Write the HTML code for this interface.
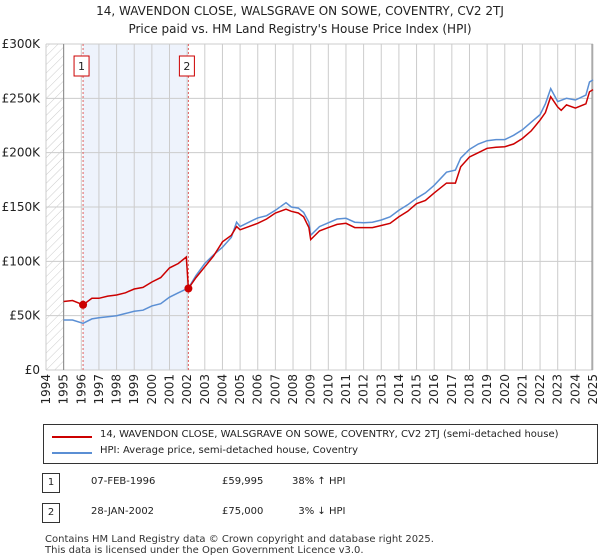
<!DOCTYPE html>
<html><head><meta charset="utf-8"><style>
body{margin:0;background:#fff;font-family:"DejaVu Sans","Liberation Sans",sans-serif;}
#wrap{position:relative;width:600px;height:560px;}
.t{position:absolute;font-size:11px;color:#222;white-space:nowrap;}
</style></head><body><div id="wrap">
<div class="t" style="left:0;width:600px;text-align:center;top:2px;font-size:12px;line-height:18px">14, WAVENDON CLOSE, WALSGRAVE ON SOWE, COVENTRY, CV2 2TJ<br>Price paid vs. HM Land Registry's House Price Index (HPI)</div>
<svg id="svg" width="600" height="420" style="position:absolute;left:0;top:0;font-family:'DejaVu Sans','Liberation Sans',sans-serif">
<defs><pattern id="hatch" width="6" height="6" patternUnits="userSpaceOnUse" patternTransform="rotate(45)"><line x1="0" y1="0" x2="0" y2="6" stroke="#ccc" stroke-width="1"/></pattern></defs>
</svg>
<div style="position:absolute;left:43px;top:424px;width:553px;height:38px;border:1px solid #333;"></div>
<div style="position:absolute;left:52px;top:436px;width:40px;height:2px;background:#cc0000"></div>
<div class="t" style="left:100px;top:429px;font-size:10px">14, WAVENDON CLOSE, WALSGRAVE ON SOWE, COVENTRY, CV2 2TJ (semi-detached house)</div>
<div style="position:absolute;left:52px;top:452px;width:40px;height:2px;background:#5b8fd4"></div>
<div class="t" style="left:100px;top:445px;font-size:10px">HPI: Average price, semi-detached house, Coventry</div>
<div class="t" style="left:42px;top:473px;width:16px;height:18px;border:1px solid #333;text-align:center;line-height:18px;font-size:10px">1</div>
<div class="t" style="left:91px;top:476px;font-size:10px">07-FEB-1996</div>
<div class="t" style="left:222px;top:476px;font-size:10px">£59,995</div>
<div class="t" style="left:292px;top:476px;font-size:10px">38% ↑ HPI</div>
<div class="t" style="left:42px;top:503px;width:16px;height:18px;border:1px solid #333;text-align:center;line-height:18px;font-size:10px">2</div>
<div class="t" style="left:91px;top:506px;font-size:10px">28-JAN-2002</div>
<div class="t" style="left:222px;top:506px;font-size:10px">£75,000</div>
<div class="t" style="left:292px;top:506px;font-size:10px">&nbsp;&nbsp;3% ↓ HPI</div>
<div class="t" style="left:45px;top:534px;font-size:10px;line-height:11px;color:#333">Contains HM Land Registry data © Crown copyright and database right 2025.<br>This data is licensed under the Open Government Licence v3.0.</div>
</div>
<script>
const hpiYears=[1995,1995.5,1996.1,1996.6,1997,1997.5,1998,1998.5,1999,1999.5,2000,2000.5,2001,2001.5,2002.07,2002.5,2003,2003.5,2004,2004.5,2004.8,2005,2005.5,2006,2006.5,2007,2007.6,2007.9,2008.3,2008.6,2008.9,2009,2009.5,2010,2010.5,2011,2011.5,2012,2012.5,2013,2013.5,2014,2014.5,2015,2015.5,2016,2016.7,2017.2,2017.5,2018,2018.5,2019,2019.5,2020,2020.5,2021,2021.5,2022,2022.3,2022.6,2023,2023.5,2024,2024.6,2024.8,2025];
const hpiVals=[46,46,43,47,48,49,50,52,54,55,59,61,67,71,75.5,87,98,106,113,122,136,132,136,140,142,147,154,150,149,145,136,124,132,135.5,139,139.6,136,135.5,136,138,141,147,152,158,163,170,182,184,195,203,208,211,212,212,216,221,228,235,245,259,247,250,248.5,253,265,267];
const redYears=[1995,1995.5,1996.1,1996.6,1997,1997.5,1998,1998.5,1999,1999.5,2000,2000.5,2001,2001.5,2001.95,2002.07,2002.5,2003,2003.5,2004,2004.5,2004.8,2005,2005.5,2006,2006.5,2007,2007.6,2007.9,2008.3,2008.6,2008.9,2009,2009.5,2010,2010.5,2011,2011.5,2012,2012.5,2013,2013.5,2014,2014.5,2015,2015.5,2016,2016.7,2017.2,2017.5,2018,2018.5,2019,2019.5,2020,2020.5,2021,2021.5,2022,2022.3,2022.6,2023,2023.2,2023.5,2024,2024.6,2024.8,2025];
const redVals=[63,64,60,66,66,68,69,71,74.5,76,81,85,94,98,104,75,85,95,105,118,124,132,129,132,135,139,144.5,148,146,144.5,141,131,120,128,131,134,135,131,131,131,133,135,141,146,153,156,163,172,172,187,196,200,204,205,205.5,208,213,220,230,237,251.5,242,239,244,241,245,256,258];
const sales=[[1996.1,59.995],[2002.07,75]];
const yTicks=[0,50,100,150,200,250,300];
const yLabels=["£0","£50K","£100K","£150K","£200K","£250K","£300K"];
const NS="http://www.w3.org/2000/svg",svg=document.getElementById('svg');
const X=y=>46+(y-1994)*(547/31), Y=v=>370-v*(326/300);
function el(t,a,name){const e=document.createElementNS(NS,t);for(const k in a)e.setAttribute(k,a[k]);


svg.appendChild(e);return e;}
el('rect',{x:X(1994),y:44,width:X(1995)-X(1994),height:326,fill:'url(#hatch)'},'pre-data-hatch');
el('rect',{x:X(sales[0][0]),y:44,width:X(sales[1][0])-X(sales[0][0]),height:326,fill:'#eef3fc'},'ownership-shade');
for(let yr=1994;yr<=2025;yr++){el('line',{x1:X(yr),x2:X(yr),y1:44,y2:370,stroke:'#ccc'},'x-gridline');
const t=el('text',{x:0,y:0,'font-size':12,fill:'#222','text-anchor':'end',transform:`translate(${X(yr)+4},374) rotate(-90)`},'x-tick-label');t.textContent=yr;}
yTicks.forEach((v,i)=>{el('line',{x1:46,x2:593,y1:Y(v),y2:Y(v),stroke:'#ccc'},'y-gridline');
const t=el('text',{x:40,y:Y(v)+4,'font-size':12,fill:'#222','text-anchor':'end'},'y-tick-label');t.textContent=yLabels[i];});
el('line',{x1:X(1995),x2:X(1995),y1:44,y2:370,stroke:'#888'},'data-start-line');
el('line',{x1:X(2025)-1,x2:X(2025)-1,y1:44,y2:370,stroke:'#888'},'data-end-line');
sales.forEach((s,i)=>{el('line',{x1:X(s[0]),x2:X(s[0]),y1:44,y2:370,stroke:'#e06060','stroke-dasharray':'2,2'},'sale-vline');
el('rect',{x:X(s[0])-9,y:56,width:15,height:20,fill:'#fff',stroke:'#cc0000'},'sale-marker-box');
const t=el('text',{x:X(s[0])-1.5,y:70,'font-size':11,fill:'#222','text-anchor':'middle'},'sale-marker-label');t.textContent=i+1;});
const path=(xs,vs)=>xs.map((x,i)=>(i?'L':'M')+X(x).toFixed(1)+','+Y(vs[i]).toFixed(1)).join('');
el('path',{d:path(hpiYears,hpiVals),fill:'none',stroke:'#5b8fd4','stroke-width':1.5},'hpi-line');
el('path',{d:path(redYears,redVals),fill:'none',stroke:'#cc0000','stroke-width':1.5},'price-line');
sales.forEach(s=>el('circle',{cx:X(s[0]),cy:Y(s[1]),r:4,fill:'#cc0000'},'sale-point'));
</script></body></html>
